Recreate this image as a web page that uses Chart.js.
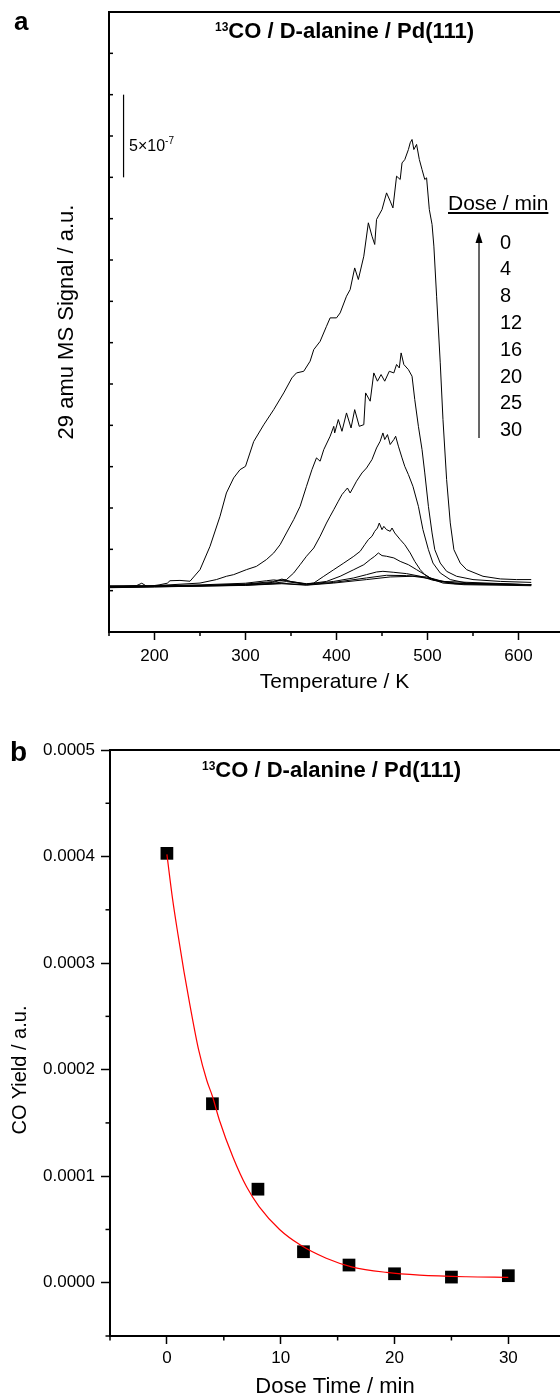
<!DOCTYPE html>
<html>
<head>
<meta charset="utf-8">
<title>13CO / D-alanine / Pd(111)</title>
<script src="https://cdn.jsdelivr.net/npm/chart.js@4.4.1/dist/chart.umd.min.js"></script>
<style>
  html, body { margin: 0; padding: 0; background: #fff; }
  body { position: relative; width: 560px; height: 1398px; overflow: hidden; font-family: "Liberation Sans", Arial, sans-serif; color: #000; }
  canvas { position: absolute; left: 0; }
  #chartA { top: 0; }
  #chartB { top: 700px; }
  .t { position: absolute; white-space: nowrap; line-height: 1; }
  .panel { font-weight: bold; }
  .title { font-weight: bold; font-size: 22px; }
  .title span { font-size: 12px; position: relative; top: -7px; }
</style>
</head>
<body>
<canvas id="chartA" width="560" height="700"></canvas>
<canvas id="chartB" width="560" height="698"></canvas>
<div class="t panel" style="left:14px;top:8px;font-size:26px">a</div>
<div class="t panel" style="left:10px;top:738px;font-size:28px">b</div>
<div class="t title" style="left:215px;top:19.7px"><span>13</span>CO / D-alanine / Pd(111)</div>
<div class="t title" style="left:202px;top:759.4px"><span>13</span>CO / D-alanine / Pd(111)</div>
<div class="t" style="left:129px;top:138px;font-size:16px">5×10<span style="font-size:10px;position:relative;top:-7px">-7</span></div>
<div class="t" style="left:448px;top:192px;font-size:21px;text-decoration:underline">Dose / min</div>
<div class="t" id="doseList" style="left:500px;top:228.6px;font-size:20px;line-height:26.8px"></div>
<div class="t" style="left:18.5px;top:1070px;font-size:20px;transform:translate(-50%,-50%) rotate(-90deg)">CO Yield / a.u.</div>
<script>
// panel a: TPD traces, signal in units of 1e-7
const doses = [0, 4, 8, 12, 16, 20, 25, 30];

const temp0 = [151,165,180,186,192,205,214,217,228,239,250,261,272,279,287,294,300,309,320,331,342,351,356,364,371,375,382,389,393,400,404,411,415,420,424,430,435,439,442,444,450,455,459,462,466,470,472,475,479,481,483,485,488,491,494,497,499,502,505,507,510,514,517,521,525,529,536,543,561,580,598,614];
const signal0 = [0.2,0.25,0.3,0.45,0.25,0.35,0.45,0.6,0.62,0.57,1.27,2.68,4.5,5.91,6.82,7.32,7.52,9.02,10.03,10.95,11.96,12.87,13.17,13.27,13.88,14.58,15.08,15.99,16.5,16.5,16.8,17.81,18.21,19.52,18.82,20.23,22.25,21.44,20.94,22.45,23.05,24.06,23.56,23.15,25.07,24.87,25.87,26.07,26.68,27.09,27.29,26.68,26.99,26.08,25.47,24.87,24.97,23.05,22.15,20.84,17.81,13.78,10.35,6.72,4.1,2.48,1.67,1.27,0.87,0.71,0.67,0.67];

const temp4 = [151,200,250,268,279,287,301,312,323,331,338,345,353,360,367,373,378,382,386,393,397,398,402,406,411,416,420,425,430,432,437,441,445,449,453,458,463,466,469,471,474,479,483,486,490,494,497,501,505,508,514,521,532,550,580,614];
const signal4 = [0.3,0.3,0.46,0.67,0.87,0.97,1.27,1.47,1.88,2.28,2.78,3.49,4.3,5.1,6.31,7.32,8.03,7.83,8.53,9.34,9.94,9.54,10.35,9.64,10.75,9.84,10.95,9.94,10.04,11.96,11.46,13.17,12.67,13.07,12.67,13.27,13.17,13.68,13.47,14.38,13.68,13.37,12.97,11.56,9.94,8.53,7.12,5.1,3.49,2.48,1.67,1.17,0.87,0.67,0.56,0.5];

const temp8 = [151,200,250,300,323,331,338,345,353,360,367,375,382,389,393,397,402,406,409,412,415,418,422,428,433,439,444,448,451,453,456,459,463,465,468,472,475,479,484,490,495,501,506,514,525,543,614];
const signal8 = [0.25,0.3,0.35,0.45,0.6,0.65,0.6,0.67,1.07,1.57,2.08,2.58,3.29,4.09,4.5,4.9,5.41,5.81,6.01,6.21,5.91,6.21,6.62,7.12,7.42,7.93,8.63,9.04,9.54,9.14,9.44,8.84,9.14,9.34,8.74,8.03,7.52,7.02,6.31,5.1,3.69,2.48,1.67,1.07,0.67,0.46,0.36];

const temp12 = [151,200,250,300,330,340,350,367,375,386,397,408,419,426,431,435,439,442,445,447,450,452,455,459,461,464,470,475,481,486,492,497,503,517,614];
const signal12 = [0.25,0.28,0.32,0.4,0.55,0.7,0.55,0.42,0.46,0.87,1.27,1.67,2.08,2.38,2.78,3.09,3.29,3.59,3.79,4.09,3.69,3.89,3.69,3.59,3.79,3.49,3.09,2.78,2.28,1.77,1.27,0.97,0.77,0.56,0.36];

const temp16 = [151,200,250,300,330,340,350,367,389,404,419,430,437,442,446,450,455,463,470,479,488,497,506,530,614];
const signal16 = [0.22,0.26,0.3,0.38,0.5,0.65,0.55,0.4,0.56,0.87,1.27,1.57,1.88,2.08,2.28,2.12,2.08,1.98,1.77,1.57,1.27,0.97,0.67,0.45,0.36];

const temp20 = [151,200,250,300,330,345,367,397,419,433,444,451,463,477,492,506,530,614];
const signal20 = [0.2,0.25,0.3,0.35,0.45,0.55,0.38,0.56,0.77,0.97,1.13,1.17,1.11,1.03,0.87,0.63,0.42,0.36];

const temp25 = [151,200,250,300,340,367,397,433,455,477,499,514,540,614];
const signal25 = [0.18,0.22,0.28,0.33,0.45,0.35,0.5,0.77,0.93,0.91,0.83,0.56,0.4,0.34];

const temp30 = [151,200,250,300,340,367,397,433,459,484,503,517,540,614];
const signal30 = [0.2,0.24,0.27,0.32,0.42,0.33,0.46,0.67,0.83,0.87,0.73,0.46,0.36,0.3];

const curveTemps = [temp0, temp4, temp8, temp12, temp16, temp20, temp25, temp30];
const curveSignals = [signal0, signal4, signal8, signal12, signal16, signal20, signal25, signal30];

const tempTicks = [200, 300, 400, 500, 600];
const tempMinorTicks = [150, 250, 350, 450, 550];
const signalTicks = [-2.5, 0, 2.5, 5, 7.5, 10, 12.5, 15, 17.5, 20, 22.5, 25, 27.5, 30, 32.5, 35];

// panel b: CO yield vs dose time
const doseTime = [0, 4, 8, 12, 16, 20, 25, 30];
const coYield = [0.000403, 0.000168, 0.0000878, 0.0000291, 0.0000166, 0.0000084, 0.0000053, 0.0000066];
const fitTime = [0, 0.5, 1, 1.5, 2, 2.8, 3.5, 4, 4.6, 5.8, 7, 8.1, 9.9, 11.7, 14, 16.3, 19.3, 22.2, 26.3, 30];
const fitYield = [0.000402, 0.00036, 0.000325, 0.000292, 0.000262, 0.000218, 0.00019, 0.000175, 0.000153, 0.000118, 0.00009, 0.0000715, 0.00005, 0.0000356, 0.000023, 0.0000147, 0.0000097, 0.0000072, 0.0000056, 0.000005];

const doseTicks = [0, 10, 20, 30];
const doseMinorTicks = [-5, 5, 15, 25];
const yieldTicks = [0, 0.0001, 0.0002, 0.0003, 0.0004, 0.0005];
const yieldMinorTicks = [-0.00005, 0.00005, 0.00015, 0.00025, 0.00035, 0.00045];

document.getElementById("doseList").innerHTML = doses.join("<br>");

Chart.defaults.font.family = '"Liberation Sans", Arial, sans-serif';
Chart.defaults.color = "#000";

// top frame line + the short ticks chart.js can't size separately
const framePlugin = {
  id: "frame",
  afterDraw(chart, args, opts) {
    const { ctx, chartArea: a, scales } = chart;
    ctx.save();
    ctx.strokeStyle = "#000";
    ctx.lineWidth = 2;
    ctx.beginPath();
    ctx.moveTo(a.left - 1, a.top);
    ctx.lineTo(a.right, a.top);
    ctx.stroke();
    ctx.lineWidth = 1.5;
    opts.xMinor.forEach((v) => {
      const px = scales.x.getPixelForValue(v);
      ctx.beginPath();
      ctx.moveTo(px, a.bottom);
      ctx.lineTo(px, a.bottom + opts.len);
      ctx.stroke();
    });
    opts.yMinor.forEach((v) => {
      const py = scales.y.getPixelForValue(v);
      ctx.beginPath();
      ctx.moveTo(a.left, py);
      ctx.lineTo(a.left + opts.yDir * opts.len, py);
      ctx.stroke();
    });
    ctx.restore();
  }
};

// scale bar (5e-7) and the dose arrow in panel a
const marksPlugin = {
  id: "marks",
  afterDraw(chart) {
    const { ctx, scales: { x, y } } = chart;
    ctx.save();
    ctx.strokeStyle = "#000";
    ctx.fillStyle = "#000";
    ctx.lineWidth = 1.2;
    const bx = x.getPixelForValue(166);
    ctx.beginPath();
    ctx.moveTo(bx, y.getPixelForValue(25));
    ctx.lineTo(bx, y.getPixelForValue(30));
    ctx.stroke();
    const ax = x.getPixelForValue(556.6);
    const tip = y.getPixelForValue(21.7);
    ctx.beginPath();
    ctx.moveTo(ax, y.getPixelForValue(9.24));
    ctx.lineTo(ax, tip + 8);
    ctx.stroke();
    ctx.beginPath();
    ctx.moveTo(ax, tip);
    ctx.lineTo(ax - 3.5, tip + 11);
    ctx.lineTo(ax + 3.5, tip + 11);
    ctx.closePath();
    ctx.fill();
    ctx.restore();
  }
};

new Chart(document.getElementById("chartA"), {
  type: "line",
  data: {
    datasets: doses.map((d, i) => ({
      label: d + " min",
      data: curveTemps[i].map((t, j) => ({ x: t, y: curveSignals[i][j] })),
      borderColor: "#000",
      borderWidth: 1,
      pointRadius: 0,
      tension: 0,
      fill: false
    }))
  },
  options: {
    responsive: false,
    animation: false,
    events: [],
    layout: { autoPadding: false, padding: { top: 12, left: 0, right: 0, bottom: 0 } },
    plugins: {
      legend: { display: false },
      tooltip: { enabled: false },
      frame: { xMinor: tempMinorTicks, yMinor: signalTicks, yDir: 1, len: 4 }
    },
    scales: {
      x: {
        type: "linear",
        min: 150,
        max: 645.6,
        afterBuildTicks: (ax) => { ax.ticks = tempTicks.map((v) => ({ value: v })); },
        afterFit: (ax) => { ax.height = 68; },
        border: { color: "#000", width: 2 },
        grid: { drawOnChartArea: false, tickLength: 8, tickWidth: 1.5, tickColor: "#000" },
        ticks: { padding: 6.5, font: { size: 17 }, maxRotation: 0, autoSkip: false, callback: (v) => String(v) },
        title: { display: true, text: "Temperature / K", font: { size: 21, lineHeight: 1 }, padding: { top: 0, bottom: 7.5 } }
      },
      y: {
        type: "linear",
        min: -2.5,
        max: 35,
        afterFit: (ax) => { ax.width = 109; },
        border: { color: "#000", width: 2 },
        grid: { drawOnChartArea: false, drawTicks: false },
        ticks: { display: false },
        title: { display: true, text: "29 amu MS Signal / a.u.", font: { size: 22, lineHeight: 1 }, padding: { top: 56, bottom: 0 } }
      }
    }
  },
  plugins: [framePlugin, marksPlugin]
});

new Chart(document.getElementById("chartB"), {
  type: "line",
  data: {
    datasets: [
      {
        label: "fit",
        data: fitTime.map((t, i) => ({ x: t, y: fitYield[i] })),
        borderColor: "#ff0000",
        borderWidth: 1.2,
        pointRadius: 0,
        cubicInterpolationMode: "monotone",
        fill: false,
        order: 0
      },
      {
        label: "CO yield",
        data: doseTime.map((t, i) => ({ x: t, y: coYield[i] })),
        showLine: false,
        pointStyle: "rect",
        pointRadius: 9,
        backgroundColor: "#000",
        borderColor: "#000",
        borderWidth: 0,
        order: 1
      }
    ]
  },
  options: {
    responsive: false,
    animation: false,
    events: [],
    layout: { autoPadding: false, padding: { top: 50, left: 0, right: 0, bottom: 0 } },
    plugins: {
      legend: { display: false },
      tooltip: { enabled: false },
      frame: { xMinor: doseMinorTicks, yMinor: yieldMinorTicks, yDir: -1, len: 4.5 }
    },
    scales: {
      x: {
        type: "linear",
        min: -5,
        max: 34.54,
        afterBuildTicks: (ax) => { ax.ticks = doseTicks.map((v) => ({ value: v })); },
        afterFit: (ax) => { ax.height = 62; },
        border: { color: "#000", width: 2 },
        grid: { drawOnChartArea: false, tickLength: 8, tickWidth: 1.5, tickColor: "#000" },
        ticks: { padding: 3.8, font: { size: 17 }, maxRotation: 0, autoSkip: false, callback: (v) => String(v) },
        title: { display: true, text: "Dose Time / min", font: { size: 22, lineHeight: 1 }, padding: { top: 0, bottom: 0 } }
      },
      y: {
        type: "linear",
        min: -0.00005,
        max: 0.0005,
        afterBuildTicks: (ax) => { ax.ticks = yieldTicks.map((v) => ({ value: v })); },
        afterFit: (ax) => { ax.width = 110; },
        border: { color: "#000", width: 2 },
        grid: { drawOnChartArea: false, tickLength: 9, tickWidth: 1.5, tickColor: "#000" },
        ticks: { padding: 6, font: { size: 17 }, autoSkip: false, callback: (v) => v.toFixed(4) },
        title: { display: false }
      }
    }
  },
  plugins: [framePlugin]
});
</script>
</body>
</html>
